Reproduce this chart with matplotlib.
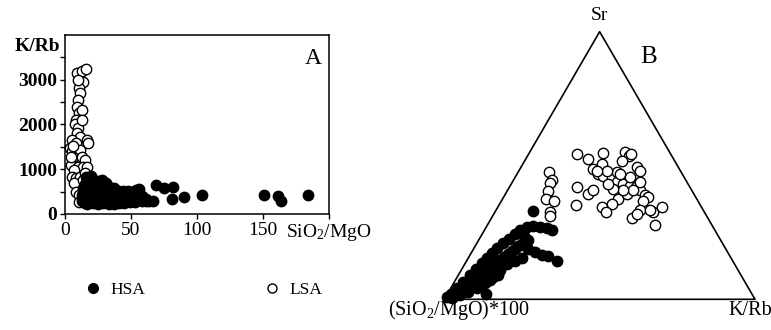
import numpy as np
import matplotlib
matplotlib.use('Agg')
import matplotlib.pyplot as plt
from matplotlib.lines import Line2D

plt.rcParams['font.family'] = 'Liberation Serif'
plt.rcParams['mathtext.fontset'] = 'custom'
plt.rcParams['mathtext.rm'] = 'Liberation Serif'
plt.rcParams['mathtext.default'] = 'regular'

# ---- A : K/Rb vs SiO2/MgO ----
hsa_sio2_mgo = [13, 13, 14, 15, 15, 16, 15, 16, 17, 17, 18, 18, 17, 19, 19, 20, 19, 20,
                21, 21, 22, 21, 22, 23, 23, 24, 23, 25, 25, 26, 25, 26, 27, 27, 28, 27,
                28, 29, 29, 30, 29, 31, 31, 32, 31, 33, 33, 34, 33, 35, 35, 36, 37, 37,
                38, 37, 39, 39, 40, 41, 41, 42, 43, 43, 44, 45, 45, 46, 47, 47, 48, 49,
                49, 50, 51, 51, 53, 53, 54, 55, 55, 56, 58, 58, 61, 61, 64, 67,
                69, 75, 82, 81, 90, 104, 151, 161, 164, 184]
hsa_k_rb = [300, 420, 560, 250, 380, 520, 680, 820, 220, 330, 460, 600, 760, 280, 400, 540, 700, 850,
            240, 350, 480, 620, 760, 300, 430, 560, 690, 230, 350, 480, 610, 740, 280, 410, 540, 680,
            760, 240, 360, 490, 620, 300, 430, 560, 700, 230, 350, 480, 600, 280, 400, 520, 230, 340,
            460, 590, 290, 410, 520, 240, 350, 470, 300, 420, 520, 250, 370, 500, 310, 430, 520, 260,
            380, 500, 320, 440, 270, 390, 530, 330, 460, 560, 280, 400, 340, 300, 300, 280,
            650, 580, 610, 340, 390, 430, 430, 400, 290, 420]

lsa_sio2_mgo = [9.3, 12.5, 16, 13.8, 10.8, 11, 10, 9.3, 10.5, 8.3, 7.5, 10, 8.8, 11, 16.8,
                17.5, 5, 8.3, 3.8, 5, 11, 6.3, 12.5, 15, 4.3, 10, 13.3, 16.3, 6.8, 5, 8.3,
                11.3, 6.8, 8.3, 10.8, 10.8, 12.5, 15, 13.8, 4.3, 5.8, 12.5, 12.5, 10]
lsa_k_rb = [3150, 3190, 3240, 2960, 2810, 2700, 2550, 2400, 2250, 2100, 2000, 1920, 1800, 1730, 1660,
            1580, 1660, 1580, 1470, 1400, 1430, 1280, 1280, 1210, 1100, 1060, 1060, 1060, 985, 835, 800,
            835, 690, 500, 425, 275, 350, 910, 760, 1280, 1510, 2330, 2100, 3000]

# ---- B : ternary (SiO2/MgO)*100 - Sr - K/Rb, in percent ----
hsa_t_sio2 = [96.97, 93.86, 90.59, 87.28, 84.24, 81.29, 78.57, 76.08, 73.54, 70.47, 67.74, 64.98, 62.75,
              60.00, 57.65, 55.70, 53.67, 52.44, 55.09,
              94.07, 90.27, 86.53, 82.61, 78.69, 74.77, 70.85, 67.77, 64.70, 61.93,
              97.46, 94.16, 90.85, 87.55, 85.60, 83.94, 80.02, 76.63, 73.36, 70.07, 67.31,
              63.48, 61.95, 60.31, 58.47, 56.66, 98.88, 95.46,
              96.27, 92.17, 88.55, 84.75, 80.83, 76.79, 72.86, 69.29, 66.27, 62.59,
              85.86, 81.70, 78.09, 71.24]
hsa_t_sr = [1.98, 4.34, 6.57, 8.92, 11.15, 13.38, 15.61, 17.35, 19.21, 21.07, 22.68, 24.54, 25.78,
            27.01, 27.39, 27.01, 26.77, 26.02, 32.96,
            2.85, 5.08, 7.19, 9.67, 12.14, 14.62, 17.10, 18.96, 20.82, 22.06,
            0.37, 1.61, 2.85, 4.09, 1.98, 5.95, 8.43, 10.90, 13.14, 14.37, 15.61,
            18.96, 17.72, 16.73, 16.11, 14.37, 0.74, 2.23,
            1.24, 4.09, 5.95, 8.18, 10.66, 13.38, 15.86, 18.09, 19.83, 23.54,
            5.33, 7.19, 9.05, 15.24]
hsa_t_krb = [1.05, 1.80, 2.84, 3.80, 4.61, 5.33, 5.82, 6.57, 7.25, 8.46, 9.58, 10.48, 11.47,
             12.99, 14.96, 17.29, 19.56, 21.54, 11.95,
             3.08, 4.65, 6.28, 7.72, 9.17, 10.61, 12.05, 13.27, 14.48, 16.01,
             2.17, 4.23, 6.30, 8.36, 12.42, 10.11, 11.55, 12.47, 13.50, 15.56, 17.08,
             17.56, 20.33, 22.96, 25.42, 28.97, 0.38, 2.31,
             2.49, 3.74, 5.50, 7.07, 8.51, 9.83, 11.28, 12.62, 13.90, 13.87,
             8.81, 11.11, 12.86, 13.52]

lsa_t_sio2 = [42.5, 43.0, 44.3, 46.2, 48.5, 46.4, 49.7, 50.5,
              30.1, 27.4, 21.5, 27.7, 24.1, 27.0, 25.9, 23.3, 20.8, 14.4, 13.6, 12.6, 17.0, 13.4,
              13.0, 22.7, 20.8, 19.0, 17.2, 16.7, 16.0, 15.2, 17.5, 16.4, 12.8, 18.4, 20.4, 24.5,
              25.2, 28.3, 32.1, 31.5, 36.3, 33.9, 31.7, 40.1, 21.6, 18.8, 22.1, 15.1, 17.4, 25.0,
              25.7, 20.0, 23.7, 26.9, 17.2, 22.1]
lsa_t_sr = [47.5, 44.4, 43.4, 40.6, 37.5, 36.6, 32.6, 31.0,
            54.3, 52.4, 54.7, 48.7, 50.6, 46.8, 45.9, 45.6, 47.5, 54.9, 53.7, 54.3, 51.8, 49.3,
            48.1, 43.7, 43.1, 42.5, 41.9, 40.7, 38.8, 38.2, 36.9, 32.6, 34.5, 27.6, 33.2, 30.5,
            37.6, 35.7, 34.5, 32.6, 41.9, 39.4, 40.7, 35.1, 39.4, 40.7, 40.7, 43.7, 45.6, 41.3,
            43.1, 46.8, 48.1, 48.1, 33.2, 32.0]
lsa_t_krb = [10.0, 12.6, 12.3, 13.2, 14.0, 17.0, 17.7, 18.5,
             15.6, 20.2, 23.8, 23.6, 25.3, 26.2, 28.2, 31.1, 31.7, 30.7, 32.7, 33.1, 31.2, 37.3,
             38.9, 33.6, 36.1, 38.5, 40.9, 42.6, 45.2, 46.6, 45.6, 51.0, 52.7, 54.0, 46.4, 45.1,
             37.2, 36.0, 33.4, 35.9, 21.8, 26.7, 27.6, 24.8, 39.0, 40.5, 37.2, 41.2, 37.0, 33.7,
             31.2, 33.2, 28.2, 25.0, 49.6, 45.9]


def ternary_xy(a, b, c):
    # a : bottom-left corner, b : top corner, c : bottom-right corner
    a, b, c = np.asarray(a, float), np.asarray(b, float), np.asarray(c, float)
    tot = a + b + c
    b = b / tot
    c = c / tot
    return c + b / 2, b * np.sqrt(3) / 2


fig = plt.figure(figsize=(7.71, 3.30), dpi=100)

ms = 56
axA = fig.add_axes([65 / 771, 1 - 214 / 330, 264 / 771, 179 / 330])
axA.scatter(lsa_sio2_mgo, lsa_k_rb, s=ms, facecolor='white', edgecolor='black', linewidth=1.0,
            zorder=2, clip_on=False)
axA.scatter(hsa_sio2_mgo, hsa_k_rb, s=ms, facecolor='black', edgecolor='black', linewidth=1.0,
            zorder=3, clip_on=False)
axA.set_xlim(0, 200)
axA.set_ylim(0, 4000)
axA.set_xticks([0, 50, 100, 150, 200])
axA.set_xticklabels(['0', '50', '100', '150', 'SiO$_2$/MgO'], fontsize=14)
axA.set_yticks([0, 1000, 2000, 3000])
axA.set_yticklabels(['0', '1000', '2000', '3000'], fontsize=14, fontweight='bold')
axA.set_yticks([500, 1500, 2500, 3500], minor=True)
axA.tick_params(axis='both', which='both', direction='out', length=3.5, width=1.0, pad=2,
                top=False, right=False)
for sp in axA.spines.values():
    sp.set_linewidth(1.1)
axA.text(-0.02, 3740, 'K/Rb', transform=axA.get_yaxis_transform(), ha='right', va='center',
         fontsize=14, fontweight='bold')
axA.text(188, 3470, 'A', fontsize=17, ha='center', va='center')

# legend under panel A
hsa_h = Line2D([], [], marker='o', linestyle='none', markersize=7, markerfacecolor='black',
               markeredgecolor='black')
lsa_h = Line2D([], [], marker='o', linestyle='none', markersize=6.5, markerfacecolor='white',
               markeredgecolor='black', markeredgewidth=1.0)
fig.legend([hsa_h, lsa_h], ['HSA', 'LSA'], loc='center left', bbox_to_anchor=(0.11, 0.121),
           ncol=2, frameon=False, fontsize=12.5, handlelength=1.0, handletextpad=0.45,
           columnspacing=6.85, borderpad=0, borderaxespad=0)

# ---- B : ternary diagram ----
h = np.sqrt(3) / 2
axB = fig.add_axes([444.3 / 771, 1 - 299.3 / 330, 310.7 / 771, 267.6 / 330])
axB.set_xlim(0, 1)
axB.set_ylim(0, h)
axB.axis('off')
axB.plot([0, 1, 0.5, 0], [0, 0, h, 0], color='black', linewidth=1.2, clip_on=False, zorder=1)

lx, ly = ternary_xy(lsa_t_sio2, lsa_t_sr, lsa_t_krb)
hx, hy = ternary_xy(hsa_t_sio2, hsa_t_sr, hsa_t_krb)
axB.scatter(lx, ly, s=ms, facecolor='white', edgecolor='black', linewidth=1.0, zorder=2, clip_on=False)
axB.scatter(hx, hy, s=ms, facecolor='black', edgecolor='black', linewidth=1.0, zorder=3, clip_on=False)

axB.text(0.5, 0.917, 'Sr', fontsize=14, ha='center', va='center')
axB.text(0.656, 0.784, 'B', fontsize=18, ha='center', va='center')
axB.text(0.047, -0.036, '(SiO$_2$/MgO)*100', fontsize=14.5, ha='center', va='center')
axB.text(0.985, -0.036, 'K/Rb', fontsize=14.5, ha='center', va='center')

fig.savefig('out.png', dpi=100)
